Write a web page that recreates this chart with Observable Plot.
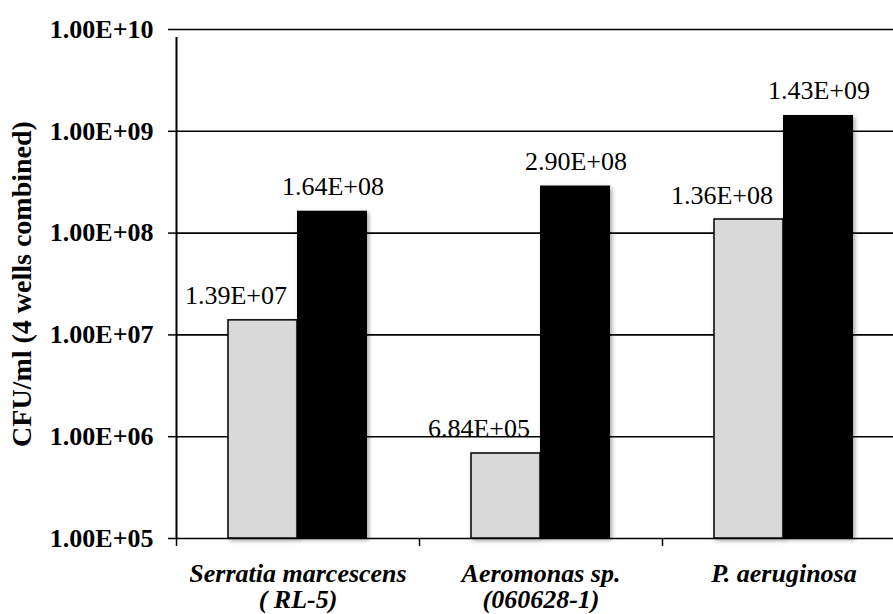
<!DOCTYPE html>
<html>
<head>
<meta charset="utf-8">
<script src="https://cdn.jsdelivr.net/npm/d3@7"></script>
<script src="https://cdn.jsdelivr.net/npm/@observablehq/plot@0.6"></script>
<style>
  html, body { margin: 0; padding: 0; background: #fff; }
  #chart svg { display: block; }
  #chart [aria-label="bar"] rect { filter: drop-shadow(2px 2px 2px rgba(0,0,0,0.35)); }
</style>
</head>
<body>
<div id="chart"></div>
<script>
const categories = ["Serratia marcescens\n( RL-5)", "Aeromonas sp.\n(060628-1)", "P. aeruginosa"];
const seriesGray = [1.39e7, 6.84e5, 1.36e8];
const seriesBlack = [1.64e8, 2.90e8, 1.43e9];
const yTicks = [1e5, 1e6, 1e7, 1e8, 1e9, 1e10];
const yLabel = "CFU/ml (4 wells combined)";

function sci(v) {
  const e = Math.floor(Math.log10(v) + 1e-9);
  const m = v / Math.pow(10, e);
  return m.toFixed(2) + "E" + (e >= 0 ? "+" : "-") + String(Math.abs(e)).padStart(2, "0");
}

const gray = categories.map((c, i) => ({cat: c, value: seriesGray[i]}));
const black = categories.map((c, i) => ({cat: c, value: seriesBlack[i]}));

const serif = "'Liberation Serif', 'Times New Roman', serif";

const chart = Plot.plot({
  width: 893,
  height: 614,
  marginLeft: 176,
  marginRight: 0,
  marginTop: 29,
  marginBottom: 76,
  style: {fontFamily: serif, fontSize: "26px", color: "#000", background: "#fff", overflow: "visible"},
  x: {domain: categories, range: [176, 905], padding: 0},
  y: {type: "log", domain: [1e5, 1e10]},
  marks: [
    Plot.ruleY(yTicks, {stroke: "#000", strokeWidth: 1.6}),
    Plot.barY(gray, {x: "cat", y1: 1e5, y2: "value", fill: "#d9d9d9", stroke: "#000", strokeWidth: 1.5, insetLeft: 52, insetRight: 122}),
    Plot.barY(black, {x: "cat", y1: 1e5, y2: "value", fill: "#000", insetLeft: 121, insetRight: 52}),
    Plot.text(gray, {x: "cat", y: "value", text: d => sci(d.value), dx: -62, dy: -16, lineAnchor: "bottom", fontSize: 26, fill: "#000"}),
    Plot.text(black, {x: "cat", y: "value", text: d => sci(d.value), dx: 35, dy: -16, lineAnchor: "bottom", fontSize: 26, fill: "#000"}),
    Plot.ruleX(categories, {x: d => d, dx: -121.5, y1: 1e5, y2: 1e5, insetBottom: -8, stroke: "#000", strokeWidth: 1.5}),
    Plot.axisY({ticks: yTicks, tickFormat: sci, tickSize: 8, tickPadding: 15, fontWeight: "bold", fontSize: 26, stroke: "#000", strokeWidth: 1.5, label: null}),
    Plot.ruleX([0], {x: () => categories[0], dx: -121.5, stroke: "#000", strokeWidth: 2, y1: 1e5, y2: 1e10, insetBottom: -8}),
    Plot.axisX({tickSize: 0, tickPadding: 24, lineHeight: 1.03, fontWeight: "bold", fontStyle: "italic", fontSize: 26, label: null}),
    Plot.text([yLabel], {frameAnchor: "left", text: d => d, rotate: -90, dx: -154, textAnchor: "middle", fontWeight: "bold", fontSize: 28, fill: "#000"})
  ]
});
document.getElementById("chart").appendChild(chart);
</script>
</body>
</html>
